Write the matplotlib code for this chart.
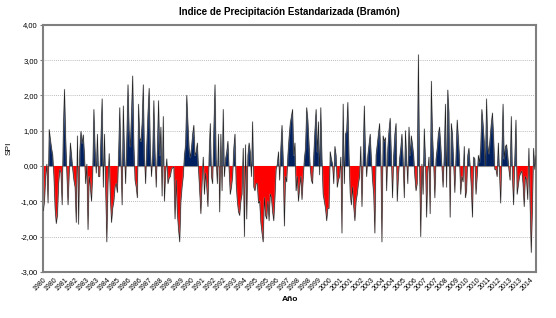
"""
SPI mensual de la estación Bramón, 1980-2014
"""
import numpy as np
import matplotlib
matplotlib.use('Agg')
import matplotlib.pyplot as plt
from matplotlib.ticker import FuncFormatter

plt.rcParams['font.family'] = ['Liberation Sans Narrow', 'Liberation Sans', 'DejaVu Sans']

# monthly SPI values, one row per year
spi_1980s = [
    -1.27, -1.0, -0.3, 0.05, -1.05, 1.03, 0.75, 0.5, 0.3, -0.3, -1.2, -1.63,   # 1980
    -1.4, -0.5, -0.1, -0.2, -1.1, 1.0, 2.17, 0.8, -0.2, -1.1, -0.2, 0.65,      # 1981
    0.3, -0.1, -0.4, -0.6, -1.6, 0.85, -1.65, 0.4, 0.98, 0.65, 0.88, 0.3,      # 1982
    -0.5, 0.05, -1.8, -0.3, -0.6, -1.0, -0.2, 1.6, 0.5, -0.2, 0.9, -0.3,       # 1983
    -0.3, 0.8, 1.9, -0.6, 0.9, -0.7, -2.15, -0.5, 0.35, -0.9, -1.6, -1.2,      # 1984
    -1.0, -0.6, -0.5, -0.75, 0.3, 1.65, 0.2, -1.1, 1.7, 0.4, -0.5, 0.8,        # 1985
    2.3, 1.0, 0.55, 1.5, 2.55, 0.6, -0.4, -0.6, -0.9, 1.75, 0.8, 0.7,          # 1986
    1.2, 2.3, 0.3, -0.5, 0.6, 1.5, 2.2, 0.5, -0.3, 0.3, 1.85, 0.4,             # 1987
    -0.6, 0.5, 1.85, 0.3, 1.1, -0.85, 1.4, -1.0, -0.2, 0.2, -0.5, -0.35,       # 1988
    -0.3, -0.1, -0.05, -0.03, -1.5, -0.4, -1.35, -1.8, -2.15, -1.0, -0.6, -0.3,  # 1989
]
spi_1990s = [
    0.3, 0.6, 2.0, 1.2, 0.5, 0.25, 0.5, 0.9, 1.15, 0.3, 0.4, 0.65,            # 1990
    -0.1, -0.75, -1.35, -0.5, 0.25, -0.8, -0.2, -0.6, -1.15, 0.3, 1.2, -0.3,  # 1991
    -0.5, 1.0, 2.3, 0.2, -0.5, 0.9, -1.3, 0.9, -0.7, 1.6, -0.3, 0.2,          # 1992
    0.4, 0.7, -0.1, -0.8, -0.6, -0.3, 0.5, 0.9, -0.5, -1.0, -1.3, -1.4,       # 1993
    -1.0, -0.8, 0.5, -2.0, 0.6, -1.5, 0.3, 0.65, 0.4, -0.3, 1.25, -0.6,       # 1994
    -0.7, -0.5, -0.5, -1.05, -1.0, -1.6, -1.9, -2.15, -0.9, -1.4, -1.5, -1.0,  # 1995
    -1.55, -0.8, -0.9, -1.3, -1.55, -0.9, -0.1, 0.05, 0.4, -0.4, 0.5, 1.15,   # 1996
    0.2, -1.7, -0.3, -0.45, 0.3, 0.8, 1.2, 1.4, 1.6, 0.3, 0.65, -0.7,         # 1997
    -0.3, -1.0, -0.6, -0.3, -0.95, -0.4, 0.2, 0.5, 1.65, 1.3, 0.6, -0.05,     # 1998
    -0.4, -0.5, 0.3, 1.0, 1.6, 0.4, 1.25, -0.25, 1.65, 0.2, -0.8, -1.0,       # 1999
]
spi_2000s = [
    -1.2, -1.55, -1.2, -1.2, 0.4, 0.2, 0.05, -0.5, 0.55, 0.3, -0.6, -0.4,     # 2000
    -0.3, 0.25, -1.9, 1.75, -0.5, 0.9, 1.0, 1.8, 0.3, -0.8, -1.1, -0.6,       # 2001
    -1.15, -1.55, -1.0, -0.8, -0.5, -0.3, 0.55, -1.15, 0.2, 1.7, 0.4, -0.3,   # 2002
    0.3, 0.6, 0.9, 0.2, -0.4, -0.8, -1.9, 0.3, 0.6, 0.9, 1.2, 0.3,            # 2003
    -2.15, 0.85, 0.7, 0.8, -0.7, 0.5, 1.0, 1.35, 0.3, -0.9, 0.3, 0.9,         # 2004
    1.2, -1.0, -0.3, 0.2, 0.5, 0.9, 0.2, -0.9, 1.0, 0.2, -0.5, 1.1,           # 2005
    0.3, 0.85, 0.6, 0.3, -0.3, -0.7, -0.5, 3.15, 0.0, -2.0, 0.05, -0.8,       # 2006
    1.05, 0.2, -1.45, -0.2, 0.25, -1.35, 2.4, 0.9, 0.1, -0.9, 0.2, 0.5,       # 2007
    0.9, 1.1, 0.6, 0.0, -0.6, 0.3, 1.75, -0.6, 2.15, 1.5, -1.45, 1.2,         # 2008
    0.9, 0.1, -0.75, 0.3, 1.3, 0.8, 0.2, -0.8, -0.3, -0.45, 0.55, -0.9,       # 2009
]
spi_2010s = [
    -0.7, 0.3, 0.5, 0.0, -0.6, -1.45, 0.25, 0.2, -0.8, -0.3, 0.3, 0.1,        # 2010
    0.5, 1.6, 1.2, 0.7, 0.0, 1.9, 0.6, 0.35, 0.8, 1.2, 1.5, 0.8,              # 2011
    -0.1, -0.1, -0.3, 0.65, -0.2, -1.05, 0.4, 1.75, 0.2, 0.55, 0.6, 0.3,      # 2012
    -0.1, -0.4, 1.4, -0.3, -1.1, 0.2, 1.3, -0.8, -0.55, -0.3, -0.2, -0.15,    # 2013
    -0.5, -1.15, -0.3, -0.4, -0.95, 0.5, -1.1, -2.45, -1.2, 0.5, -0.1, 0.3,   # 2014
]

start_year = 1980
label_every = 9  # months between category labels, as on the original axis

spi = np.array(spi_1980s + spi_1990s + spi_2000s + spi_2010s)
months = np.arange(len(spi))
years = start_year + months // 12

fig = plt.figure(figsize=(5.56, 3.18), dpi=100)
ax = fig.add_axes([0.078, 0.145, 0.886, 0.777])

# wet / dry fills
ax.fill_between(months, spi, 0, where=spi >= 0, interpolate=True,
                color='#002060', linewidth=0, zorder=2)
ax.fill_between(months, spi, 0, where=spi <= 0, interpolate=True,
                color='#ff0000', linewidth=0, zorder=2)

# light shadow under the outline, then the outline itself
ax.plot(months, spi, color='#b0b0b0', lw=1.1, alpha=0.45, zorder=3)
ax.plot(months, spi, color='#202020', lw=0.45, zorder=4)
ax.axhline(0, color='#8c8c8c', lw=0.8, zorder=1)

ax.set_xlim(0, len(spi) - 1)
ax.set_ylim(-3, 4)
ax.set_yticks(np.arange(-3, 5, 1))
ax.yaxis.set_major_formatter(FuncFormatter(lambda v, p: f'{v:.2f}'.replace('.', ',')))
for yv in range(-2, 4):
    ax.axhline(yv, color='#a6a6a6', lw=0.6, ls=(0, (1, 1.5)), zorder=0)

tick_pos = months[::label_every]
ax.set_xticks(tick_pos)
ax.set_xticklabels([str(y) for y in years[::label_every]], rotation=45,
                   ha='right', rotation_mode='anchor', fontsize=5)
ax.tick_params(axis='x', length=0, pad=3)
ax.tick_params(axis='y', length=2, labelsize=5.5, color='#808080', pad=2)

for s in ax.spines.values():
    s.set_color('#7f7f7f')
    s.set_linewidth(1.5)

ax.set_title('Indice de Precipitación Estandarizada (Bramón)', fontsize=7,
             fontweight='bold', pad=7)
ax.set_ylabel('SPI', fontsize=6, labelpad=6)
ax.set_xlabel('Año', fontsize=6, fontweight='bold', labelpad=3)

plt.savefig('out.png', dpi=100)
plt.close()
